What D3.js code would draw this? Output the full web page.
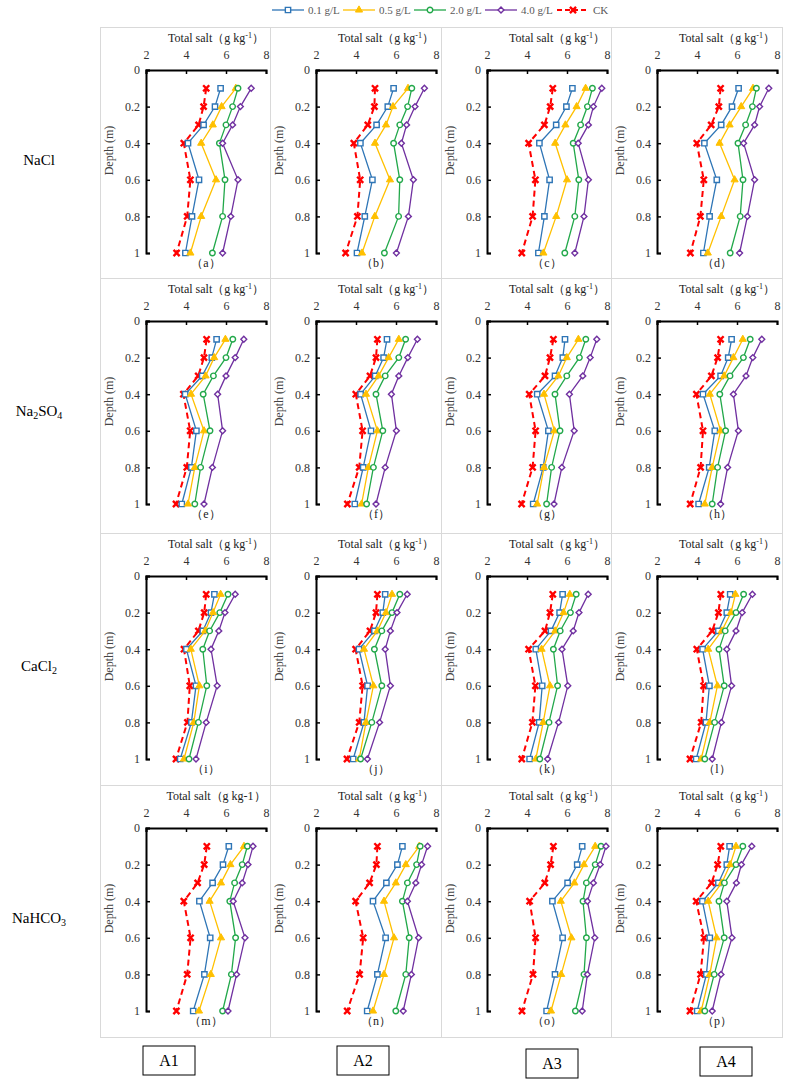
<!DOCTYPE html>
<html>
<head>
<meta charset="utf-8">
<script src="https://cdn.jsdelivr.net/npm/d3@7"></script>
<style>
  body { margin: 0; background: #fff; }
  svg { font-family: "Liberation Serif", "Times New Roman", serif; }
</style>
</head>
<body>
<svg id="chart" width="785" height="1082"></svg>
<script>
// depths sampled in every profile
const depths = [0.1, 0.2, 0.3, 0.4, 0.6, 0.8, 1];
const seriesNames = ["0.1 g/L", "0.5 g/L", "2.0 g/L", "4.0 g/L", "CK"];
const saltTypes = ["NaCl", "Na2SO4", "CaCl2", "NaHCO3"];
const treatments = ["A1", "A2", "A3", "A4"];
const panelLetters = ["a", "b", "c", "d", "e", "f", "g", "h", "i", "j", "k", "l", "m", "n", "o", "p"];
const xTicks = [2, 4, 6, 8];
const yTicks = [0, 0.2, 0.4, 0.6, 0.8, 1];

// rows: 0.1 g/L, 0.5 g/L, 2.0 g/L, 4.0 g/L, CK
const panelA = [
  [5.73, 5.45, 4.88, 4.10, 4.65, 4.30, 3.97],
  [6.49, 5.78, 5.34, 4.76, 5.50, 4.76, 4.22],
  [6.60, 6.33, 6.00, 5.67, 5.95, 5.83, 5.32],
  [7.26, 6.72, 6.33, 5.83, 6.60, 6.24, 5.83],
  [5.01, 4.88, 4.63, 3.89, 4.22, 4.06, 3.53]
];
const panelB = [
  [5.88, 5.59, 5.03, 4.22, 4.82, 4.44, 4.05],
  [6.60, 5.85, 5.50, 4.95, 5.70, 4.94, 4.30],
  [6.79, 6.58, 6.19, 5.88, 6.19, 6.13, 5.42],
  [7.42, 6.95, 6.53, 6.27, 6.87, 6.62, 6.02],
  [4.95, 4.92, 4.59, 3.89, 4.21, 4.07, 3.48]
];
const panelC = [
  [6.27, 5.97, 5.46, 4.62, 5.13, 4.87, 4.57],
  [6.93, 6.48, 5.92, 5.41, 6.00, 5.46, 4.82],
  [7.27, 7.02, 6.68, 6.31, 6.59, 6.39, 5.89],
  [7.74, 7.32, 7.07, 6.56, 7.07, 6.85, 6.39],
  [5.29, 5.16, 4.87, 4.08, 4.42, 4.28, 3.74]
];
const panelD = [
  [6.08, 5.75, 5.21, 4.37, 4.99, 4.63, 4.32],
  [6.80, 6.21, 5.63, 5.13, 5.88, 5.21, 4.54],
  [6.97, 6.77, 6.43, 6.05, 6.30, 6.16, 5.66],
  [7.59, 7.13, 6.88, 6.33, 6.88, 6.52, 6.13],
  [5.18, 5.09, 4.71, 3.99, 4.34, 4.17, 3.67]
];
const panelE = [
  [5.53, 5.29, 4.81, 3.96, 4.52, 4.27, 3.79],
  [5.97, 5.41, 4.98, 4.25, 4.90, 4.44, 4.10],
  [6.34, 6.00, 5.37, 4.86, 5.20, 4.73, 4.44],
  [6.89, 6.46, 6.00, 5.58, 5.83, 5.32, 4.90],
  [5.03, 4.90, 4.61, 3.87, 4.21, 4.04, 3.50]
];
const panelF = [
  [5.55, 5.38, 4.96, 4.23, 4.75, 4.36, 3.94],
  [6.14, 5.63, 5.13, 4.50, 5.07, 4.62, 4.28],
  [6.48, 6.14, 5.46, 5.00, 5.34, 4.87, 4.53],
  [7.07, 6.59, 6.14, 5.77, 6.02, 5.46, 5.00],
  [5.07, 5.00, 4.70, 3.99, 4.33, 4.16, 3.57]
];
const panelG = [
  [5.90, 5.79, 5.40, 4.51, 5.07, 4.81, 4.31],
  [6.57, 5.99, 5.57, 4.85, 5.37, 4.85, 4.51],
  [6.94, 6.62, 5.99, 5.40, 5.65, 5.23, 4.98],
  [7.49, 7.16, 6.79, 6.12, 6.36, 5.74, 5.35],
  [5.32, 5.15, 4.90, 4.11, 4.43, 4.28, 3.73]
];
const panelH = [
  [5.73, 5.56, 5.18, 4.30, 4.89, 4.61, 4.08],
  [6.29, 5.82, 5.36, 4.64, 5.18, 4.76, 4.39],
  [6.66, 6.32, 5.65, 5.14, 5.43, 5.03, 4.76],
  [7.24, 6.79, 6.45, 5.82, 6.07, 5.53, 5.18],
  [5.18, 5.03, 4.72, 3.97, 4.30, 4.18, 3.66]
];
const panelI = [
  [5.42, 5.25, 4.84, 4.02, 4.50, 4.27, 3.71],
  [5.73, 5.35, 4.96, 4.24, 4.67, 4.39, 3.90],
  [6.10, 5.69, 5.18, 4.84, 5.04, 4.62, 4.15],
  [6.46, 5.95, 5.64, 5.25, 5.56, 5.01, 4.50],
  [5.01, 4.91, 4.62, 3.90, 4.19, 4.07, 3.50]
];
const panelJ = [
  [5.46, 5.34, 4.92, 4.15, 4.58, 4.40, 3.86],
  [5.80, 5.50, 5.07, 4.40, 4.87, 4.50, 4.16],
  [6.19, 5.80, 5.29, 4.92, 5.29, 4.79, 4.23],
  [6.56, 6.05, 5.72, 5.46, 5.72, 5.18, 4.57],
  [5.07, 5.00, 4.70, 3.98, 4.33, 4.16, 3.55]
];
const panelK = [
  [5.78, 5.63, 5.20, 4.44, 4.76, 4.61, 4.13],
  [6.14, 5.83, 5.41, 4.73, 5.15, 4.81, 4.44],
  [6.46, 6.17, 5.66, 5.32, 5.53, 5.10, 4.64],
  [7.06, 6.60, 6.31, 5.75, 6.04, 5.58, 5.03],
  [5.29, 5.15, 4.90, 4.08, 4.42, 4.27, 3.74]
];
const panelL = [
  [5.66, 5.49, 5.07, 4.28, 4.62, 4.45, 3.96],
  [5.92, 5.70, 5.24, 4.56, 5.02, 4.64, 4.21],
  [6.33, 5.95, 5.41, 5.10, 5.36, 4.88, 4.39],
  [6.77, 6.26, 5.95, 5.49, 5.73, 5.22, 4.76],
  [5.19, 5.07, 4.76, 3.99, 4.33, 4.21, 3.65]
];
const panelM = [
  [6.14, 5.85, 5.33, 4.67, 5.21, 4.92, 4.36],
  [6.90, 6.22, 5.75, 5.18, 5.75, 5.24, 4.65],
  [7.07, 6.81, 6.43, 6.19, 6.48, 6.27, 5.83],
  [7.35, 7.10, 6.81, 6.36, 6.95, 6.53, 6.10],
  [5.04, 4.91, 4.58, 3.89, 4.23, 4.06, 3.52]
];
const panelN = [
  [6.32, 6.07, 5.52, 4.85, 5.48, 5.07, 4.56],
  [7.16, 6.49, 5.99, 5.40, 5.90, 5.40, 4.85],
  [7.21, 7.03, 6.57, 6.32, 6.66, 6.49, 5.99],
  [7.58, 7.28, 6.99, 6.57, 7.13, 6.77, 6.36],
  [5.07, 5.02, 4.68, 3.98, 4.36, 4.18, 3.56]
];
const panelO = [
  [6.76, 6.51, 6.03, 5.27, 5.78, 5.40, 4.98],
  [7.41, 6.85, 6.37, 5.69, 6.22, 5.71, 5.20],
  [7.70, 7.41, 6.97, 6.80, 6.97, 6.85, 6.42],
  [7.95, 7.66, 7.32, 7.02, 7.39, 7.02, 6.76],
  [5.32, 5.18, 4.89, 4.13, 4.43, 4.30, 3.75]
];
const panelP = [
  [5.63, 5.49, 5.07, 4.27, 4.64, 4.47, 4.01],
  [5.95, 5.66, 5.24, 4.56, 4.98, 4.64, 4.21],
  [6.29, 5.95, 5.37, 5.10, 5.36, 4.86, 4.39],
  [6.74, 6.22, 5.97, 5.49, 5.75, 5.20, 4.76],
  [5.19, 5.03, 4.73, 3.96, 4.35, 4.18, 3.65]
];

const panels = [
  panelA, panelB, panelC, panelD,
  panelE, panelF, panelG, panelH,
  panelI, panelJ, panelK, panelL,
  panelM, panelN, panelO, panelP
];

// styling
const colors = ["#2e75b6", "#ffc000", "#22a84a", "#7030a0", "#ff0000"];
const symbols = [d3.symbolSquare, d3.symbolTriangle, d3.symbolCircle, d3.symbolDiamond2, d3.symbolTimes];
const symbolSizes = [28, 22, 24, 22, 26];

const colLeft = [100, 270, 441, 611];
const colRight = 782;
const rowTop = [27, 278, 533, 785];
const rowBottom = 1037;

const svg = d3.select("#chart");

const drawMarker = (g, i, x, y) => {
  const p = g.append("path")
    .attr("d", d3.symbol().type(symbols[i]).size(symbolSizes[i])())
    .attr("transform", `translate(${x},${y})`);
  if (i === 4) {
    p.attr("fill", "none").attr("stroke", colors[i]).attr("stroke-width", 2.4);
  } else if (i === 1) {
    p.attr("fill", colors[i]).attr("stroke", colors[i]).attr("stroke-width", 1);
  } else {
    p.attr("fill", "#fff").attr("stroke", colors[i]).attr("stroke-width", 1.4);
  }
};

// subscripts for chemical formulas
const chemText = (sel, str) => {
  str.split(/(\d+)/).filter(s => s.length).forEach(s => {
    const t = sel.append("tspan").text(s);
    if (/^\d+$/.test(s)) t.attr("font-size", "10px").attr("baseline-shift", "-3");
  });
};

// legend
const legendX = [272, 343, 414, 485, 557];
seriesNames.forEach((name, i) => {
  const lg = svg.append("g").attr("transform", `translate(${legendX[i]}, 10)`);
  lg.append("line")
    .attr("x1", 0).attr("x2", 32).attr("y1", 0).attr("y2", 0)
    .attr("stroke", colors[i])
    .attr("stroke-width", i === 4 ? 2 : 1.3)
    .attr("stroke-dasharray", i === 4 ? "5,3" : null);
  drawMarker(lg, i, 16, 0);
  lg.append("text")
    .attr("x", 36).attr("y", 4)
    .attr("font-size", "11px")
    .attr("fill", "#595959")
    .text(name);
});

panels.forEach((data, k) => {
  const r = Math.floor(k / 4), c = k % 4;
  const left = colLeft[c];
  const right = c < 3 ? colLeft[c + 1] : colRight;
  const top = rowTop[r];
  const bottom = r < 3 ? rowTop[r + 1] : rowBottom;

  svg.append("rect")
    .attr("x", left + 0.5).attr("y", top + 0.5)
    .attr("width", right - left).attr("height", bottom - top)
    .attr("fill", "none")
    .attr("stroke", "#d9d9d9");

  const g = svg.append("g").attr("transform", `translate(${left}, ${top})`);

  const x = d3.scaleLinear().domain([2, 8]).range([46, 166]);
  const y = d3.scaleLinear().domain([0, 1]).range([43, 226]);

  // title
  const title = g.append("text")
    .attr("x", 116).attr("y", 15)
    .attr("text-anchor", "middle")
    .attr("font-size", "12px")
    .attr("fill", "#222");
  if (panelLetters[k] === "m") {
    title.text("Total salt（g kg-1）");
  } else {
    title.append("tspan").text("Total salt（g kg");
    title.append("tspan").text("-1").attr("font-size", "8px").attr("baseline-shift", "super");
    title.append("tspan").text("）");
  }

  // axes
  const xAxis = g.append("g")
    .attr("transform", `translate(0, ${y(0)})`)
    .call(d3.axisTop(x).tickValues(xTicks).tickFormat(d3.format("~g"))
      .tickSizeInner(-4).tickSizeOuter(-4).tickPadding(11));
  const yAxis = g.append("g")
    .attr("transform", `translate(${x(2)}, 0)`)
    .call(d3.axisLeft(y).tickValues(yTicks).tickFormat(d3.format("~g"))
      .tickSizeInner(-4).tickSizeOuter(-4).tickPadding(6));

  [xAxis, yAxis].forEach(ax => {
    ax.attr("font-family", null);
    ax.select(".domain").attr("stroke", "#000").attr("stroke-width", 2);
    ax.selectAll(".tick line").attr("stroke", "#000").attr("stroke-width", 1.5);
    ax.selectAll(".tick text")
      .attr("font-size", "12px")
      .attr("fill", "#333");
  });

  g.append("text")
    .attr("transform", `translate(13, ${y(0.44)}) rotate(-90)`)
    .attr("text-anchor", "middle")
    .attr("font-size", "12px")
    .attr("fill", "#444")
    .text("Depth (m)");

  const line = d3.line()
    .x(d => x(d[0]))
    .y(d => y(d[1]));

  // CK first so the treatment lines sit on top
  [4, 0, 1, 2, 3].forEach(i => {
    const pts = data[i].map((v, j) => [v, depths[j]]);
    g.append("path")
      .attr("d", line(pts))
      .attr("fill", "none")
      .attr("stroke", colors[i])
      .attr("stroke-width", i === 4 ? 2 : 1.3)
      .attr("stroke-dasharray", i === 4 ? "6,4" : null);
    pts.forEach(p => drawMarker(g, i, x(p[0]), y(p[1])));
  });

  g.append("text")
    .attr("x", 106).attr("y", 240)
    .attr("text-anchor", "middle")
    .attr("font-size", "12px")
    .attr("fill", "#222")
    .text(`（${panelLetters[k]}）`);
});

// row labels
saltTypes.forEach((s, r) => {
  const t = svg.append("text")
    .attr("x", 39).attr("y", rowTop[r] + 138)
    .attr("text-anchor", "middle")
    .attr("font-size", "15px")
    .attr("fill", "#000");
  chemText(t, s);
});

// column labels in boxes
const boxX = [169, 363, 552, 726];
const boxY = [1046, 1046, 1049, 1047];
treatments.forEach((t, c) => {
  svg.append("rect")
    .attr("x", boxX[c] - 26).attr("y", boxY[c])
    .attr("width", 52).attr("height", 29)
    .attr("fill", "#fff")
    .attr("stroke", "#000")
    .attr("stroke-width", 1);
  svg.append("text")
    .attr("x", boxX[c]).attr("y", boxY[c] + 20)
    .attr("text-anchor", "middle")
    .attr("font-size", "16px")
    .text(t);
});
</script>
</body>
</html>
